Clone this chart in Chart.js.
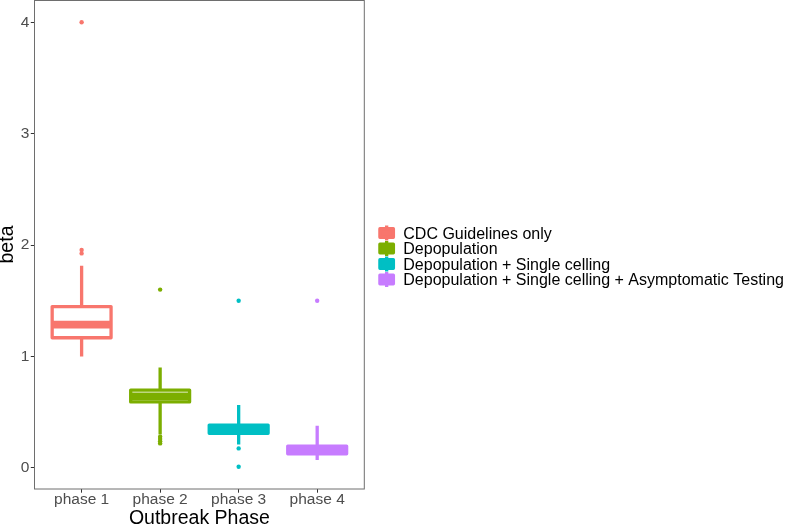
<!DOCTYPE html>
<html>
<head>
<meta charset="utf-8">
<script src="https://cdn.jsdelivr.net/npm/chart.js@4.4.1/dist/chart.umd.min.js"></script>
<style>
  html, body { margin: 0; padding: 0; background: #ffffff; }
  #wrap { position: relative; width: 787px; height: 526px; }
</style>
</head>
<body>
<div id="wrap"><canvas id="grafico-beta" width="787" height="526"></canvas></div>
<script>
// categorias e grupos
const phaseLabels = ['phase 1', 'phase 2', 'phase 3', 'phase 4'];
const groupNames = ['CDC Guidelines only', 'Depopulation', 'Depopulation + Single celling', 'Depopulation + Single celling + Asymptomatic Testing'];
const groupColors = ['#F8766D', '#7CAE00', '#00BFC4', '#C77CFF'];

// estatisticas do boxplot
const whiskerLow  = [1.00, 0.30, 0.21, 0.07];
const q1          = [1.168, 0.592, 0.310, 0.127];
const median      = [1.286, 0.642, 0.345, 0.160];
const q3          = [1.448, 0.698, 0.384, 0.196];
const whiskerHigh = [1.814, 0.90, 0.564, 0.378];
const outliers = [
    [1.925, 1.955, 4.0],
    [0.22, 0.24, 0.26, 0.28, 1.6],
    [0.01, 0.175, 1.5],
    [1.5]
];
const yTicks = [0, 1, 2, 3, 4];

const fontFamily = "'Liberation Sans', Arial, Helvetica, sans-serif";

// desenha caixas, bigodes e medianas usando as escalas do grafico
const boxPlugin = {
    id: 'boxes',
    beforeDatasetsDraw(chart) {
        const ctx = chart.ctx;
        const x = chart.scales.x;
        const y = chart.scales.y;
        const lw = 3.3;
        ctx.save();
        for (let i = 0; i < phaseLabels.length; i++) {
            const pos = i + 1;
            const xl = x.getPixelForValue(pos - 0.375);
            const xr = x.getPixelForValue(pos + 0.375);
            const xc = x.getPixelForValue(pos);
            ctx.strokeStyle = groupColors[i];
            ctx.lineWidth = lw;
            ctx.lineCap = 'butt';
            // bigodes
            ctx.beginPath();
            ctx.moveTo(xc, y.getPixelForValue(whiskerHigh[i]));
            ctx.lineTo(xc, y.getPixelForValue(q3[i]));
            ctx.moveTo(xc, y.getPixelForValue(q1[i]));
            ctx.lineTo(xc, y.getPixelForValue(whiskerLow[i]));
            ctx.stroke();
            // caixa
            const yt = y.getPixelForValue(q3[i]);
            const yb = y.getPixelForValue(q1[i]);
            ctx.lineJoin = 'round';
            ctx.fillStyle = '#ffffff';
            ctx.beginPath();
            ctx.rect(xl, yt, xr - xl, yb - yt);
            ctx.fill();
            ctx.stroke();
            // mediana
            const ym = y.getPixelForValue(median[i]);
            ctx.lineWidth = 7.6;
            ctx.beginPath();
            ctx.moveTo(xl, ym);
            ctx.lineTo(xr, ym);
            ctx.stroke();
        }
        ctx.restore();
    },
    afterDraw(chart) {
        const ctx = chart.ctx;
        const area = chart.chartArea;
        ctx.save();
        // borda do painel
        ctx.strokeStyle = '#6e6e6e';
        ctx.lineWidth = 1;
        ctx.strokeRect(area.left, area.top + 0.5, area.right - area.left, area.bottom - area.top - 0.5);

        // legenda
        const keyX = 379.9, keyW = 13.5;
        for (let i = 0; i < groupNames.length; i++) {
            const cy = 233 + i * 15.5;
            ctx.strokeStyle = groupColors[i];
            ctx.fillStyle = groupColors[i];
            ctx.lineWidth = 3.3;
            ctx.lineJoin = 'round';
            ctx.beginPath();
            ctx.moveTo(keyX + keyW / 2, cy - 7.5);
            ctx.lineTo(keyX + keyW / 2, cy + 7.5);
            ctx.stroke();
            ctx.beginPath();
            ctx.rect(keyX, cy - 4.3, keyW, 8.6);
            ctx.fill();
            ctx.stroke();
        }
        ctx.fillStyle = '#000000';
        ctx.font = '16px ' + fontFamily;
        ctx.textAlign = 'left';
        ctx.textBaseline = 'alphabetic';
        for (let i = 0; i < groupNames.length; i++) {
            const cy = 233 + i * 15.5;
            ctx.fillText(groupNames[i], 403.3, cy + 5.8);
        }
        ctx.restore();
    }
};

const datasets = outliers.map((vals, i) => ({
    label: groupNames[i],
    data: vals.map(v => ({ x: i + 1, y: v })),
    backgroundColor: groupColors[i],
    borderColor: groupColors[i],
    borderWidth: 0,
    pointRadius: 2.2
}));

const ctxBeta = document.getElementById('grafico-beta');

var boxChart = new Chart(ctxBeta, {
    type: 'scatter',
    data: { datasets: datasets },
    plugins: [boxPlugin],
    options: {
        responsive: false,
        animation: false,
        devicePixelRatio: 1,
        layout: {
            autoPadding: false,
            padding: { left: 0, right: 422.7, top: 0, bottom: 0 }
        },
        scales: {
            x: {
                type: 'linear',
                min: 0.4,
                max: 4.6,
                afterBuildTicks: function (scale) {
                    scale.ticks = phaseLabels.map((l, i) => ({ value: i + 1 }));
                },
                afterFit: function (scale) {
                    scale.height = 37;
                    scale.paddingLeft = 0;
                    scale.paddingRight = 0;
                },
                grid: {
                    drawOnChartArea: false,
                    drawTicks: true,
                    tickLength: 3.7,
                    color: '#333333'
                },
                border: { display: false },
                ticks: {
                    autoSkip: false,
                    maxRotation: 0,
                    padding: -0.6,
                    color: '#4D4D4D',
                    font: { family: fontFamily, size: 15.5, lineHeight: 1 },
                    callback: function (value) {
                        return phaseLabels[value - 1];
                    }
                },
                title: {
                    display: true,
                    text: 'Outbreak Phase',
                    color: '#000000',
                    padding: 0,
                    font: { family: fontFamily, size: 19.5, lineHeight: 0.75 }
                }
            },
            y: {
                type: 'linear',
                min: -0.1895,
                max: 4.1995,
                afterBuildTicks: function (scale) {
                    scale.ticks = yTicks.map(v => ({ value: v }));
                },
                afterFit: function (scale) {
                    scale.width = 34.5;
                    scale.paddingTop = 0;
                    scale.paddingBottom = 0;
                },
                grid: {
                    drawOnChartArea: false,
                    drawTicks: true,
                    tickLength: 3.7,
                    color: '#333333'
                },
                border: { display: false },
                ticks: {
                    padding: 1.5,
                    color: '#4D4D4D',
                    font: { family: fontFamily, size: 15.5 }
                },
                title: {
                    display: true,
                    text: 'beta',
                    color: '#000000',
                    padding: 0,
                    font: { family: fontFamily, size: 19.5, lineHeight: 0.79 }
                }
            }
        },
        plugins: {
            legend: { display: false },
            tooltip: { enabled: false }
        }
    }
});
</script>
</body>
</html>
